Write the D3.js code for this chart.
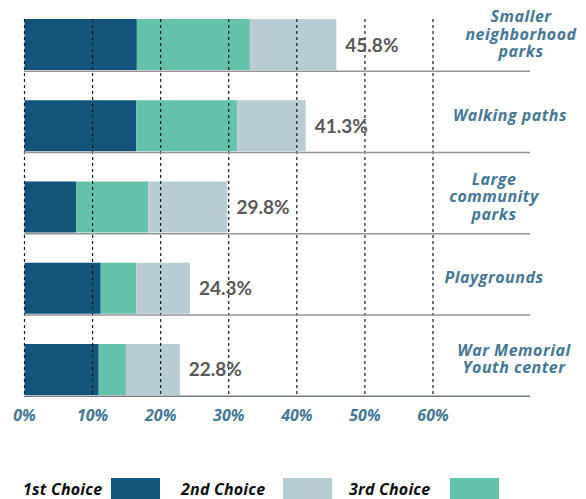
<!DOCTYPE html>
<html>
<head>
<meta charset="utf-8">
<script src="https://cdn.jsdelivr.net/npm/d3@7"></script>
<style>
  html, body { margin: 0; padding: 0; background: #fff; }
  svg { display: block; }
</style>
</head>
<body>
<svg id="chart" width="586" height="499"></svg>
<script>
// Amenity preferences, share of respondents (%) by choice rank
const categories = [
  "Smaller neighborhood parks",
  "Walking paths",
  "Large community parks",
  "Playgrounds",
  "War Memorial Youth center"
];
const firstChoice  = [16.5, 16.4, 7.6, 11.2, 10.9];
const thirdChoice  = [16.6, 14.8, 10.6, 5.2, 4.0];
const secondChoice = [12.7, 10.1, 11.6, 7.9, 7.9];
const seriesNames = ["1st Choice", "2nd Choice", "3rd Choice"];
const tickValues = [0, 10, 20, 30, 40, 50, 60];

// Wrapped category labels
const labelLines = {
  "Smaller neighborhood parks": ["Smaller", "neighborhood", "parks"],
  "Walking paths": ["Walking paths"],
  "Large community parks": ["Large", "community", "parks"],
  "Playgrounds": ["Playgrounds"],
  "War Memorial Youth center": ["War Memorial", "Youth center"]
};

const colors = {
  "1st Choice": "#13547a",
  "2nd Choice": "#b8ccd4",
  "3rd Choice": "#64c2aa"
};

const rows = categories.map((c, i) => ({
  category: c,
  "1st Choice": firstChoice[i],
  "2nd Choice": secondChoice[i],
  "3rd Choice": thirdChoice[i]
}));

// Segments run dark, teal, light from left to right
const stackOrder = ["1st Choice", "3rd Choice", "2nd Choice"];
const stacked = d3.stack().keys(stackOrder)(rows);

const svg = d3.select("#chart");
const valueFont = "Lato, 'Open Sans', sans-serif";
const labelFont = "'Open Sans', Lato, sans-serif";

const x = d3.scaleLinear().domain([0, 60]).range([24.5, 433]);
const y = d3.scaleBand().domain(categories).range([19, 395])
  .paddingInner(0.372).paddingOuter(0);

// Stacked bars
svg.append("g")
  .selectAll("g")
  .data(stacked)
  .join("g")
  .attr("fill", s => colors[s.key])
  .selectAll("rect")
  .data(s => s)
  .join("rect")
  .attr("x", d => x(d[0]))
  .attr("width", d => x(d[1]) - x(d[0]))
  .attr("y", d => y(d.data.category))
  .attr("height", y.bandwidth());

// Dashed vertical gridlines, drawn over the bars
svg.append("g")
  .selectAll("line")
  .data(tickValues)
  .join("line")
  .attr("x1", d => x(d)).attr("x2", d => x(d))
  .attr("y1", 19).attr("y2", 395)
  .attr("stroke", "#1a1a1a")
  .attr("stroke-width", 1.2)
  .attr("stroke-dasharray", "3,3");

// Horizontal rules under each bar
svg.append("g")
  .selectAll("line")
  .data(categories)
  .join("line")
  .attr("x1", 24).attr("x2", 530)
  .attr("y1", d => y(d) + y.bandwidth() + 1.2)
  .attr("y2", d => y(d) + y.bandwidth() + 1.2)
  .attr("stroke", (d, i) => i === categories.length - 1 ? "#767c82" : "#969696")
  .attr("stroke-width", 1.6);

// Total labels
const totals = rows.map(r => stackOrder.reduce((s, k) => s + r[k], 0));
svg.append("g")
  .selectAll("text")
  .data(rows)
  .join("text")
  .attr("x", (d, i) => x(totals[i]) + 9)
  .attr("y", d => y(d.category) + y.bandwidth() / 2 + 7)
  .attr("font-family", valueFont)
  .attr("font-weight", 700)
  .attr("font-size", 19)
  .attr("fill", "#595959")
  .text((d, i) => d3.format(".1f")(totals[i]) + "%");

// Category labels on the right
const labelShift = [11, 0, -16, -16, 4];
const lineH = 17.5;
svg.append("g")
  .selectAll("text")
  .data(categories)
  .join("text")
  .attr("text-anchor", "middle")
  .attr("font-family", labelFont)
  .attr("font-weight", 700)
  .attr("font-style", "italic")
  .attr("font-size", 16)
  .attr("letter-spacing", 0.5)
  .attr("fill", "#467896")
  .each(function (d, i) {
    const lines = labelLines[d];
    const cy = y(d) + y.bandwidth() / 2 - 11;
    const first = cy - (lines.length - 1) * lineH / 2 + 6;
    d3.select(this).selectAll("tspan")
      .data(lines)
      .join("tspan")
      .attr("x", 510 + labelShift[i])
      .attr("y", (l, j) => first + j * lineH)
      .text(l => l);
  });

// Axis tick labels
svg.append("g")
  .selectAll("text")
  .data(tickValues)
  .join("text")
  .attr("x", d => x(d))
  .attr("y", 421)
  .attr("text-anchor", "middle")
  .attr("font-family", labelFont)
  .attr("font-weight", 700)
  .attr("font-style", "italic")
  .attr("font-size", 16)
  .attr("fill", "#467896")
  .text(d => d + "%");

// Legend
const legendTextX = [23, 181, 349];
const legendSwatchX = [111, 283, 450];
const legend = svg.append("g")
  .selectAll("g")
  .data(seriesNames)
  .join("g");
legend.append("text")
  .attr("x", (d, i) => legendTextX[i])
  .attr("y", 495)
  .attr("font-family", labelFont)
  .attr("font-weight", 700)
  .attr("font-style", "italic")
  .attr("font-size", 16)
  .attr("letter-spacing", 0.2)
  .attr("fill", "#111")
  .text(d => d);
legend.append("rect")
  .attr("x", (d, i) => legendSwatchX[i])
  .attr("y", 478)
  .attr("width", 49)
  .attr("height", 21)
  .attr("fill", d => colors[d]);
</script>
</body>
</html>
